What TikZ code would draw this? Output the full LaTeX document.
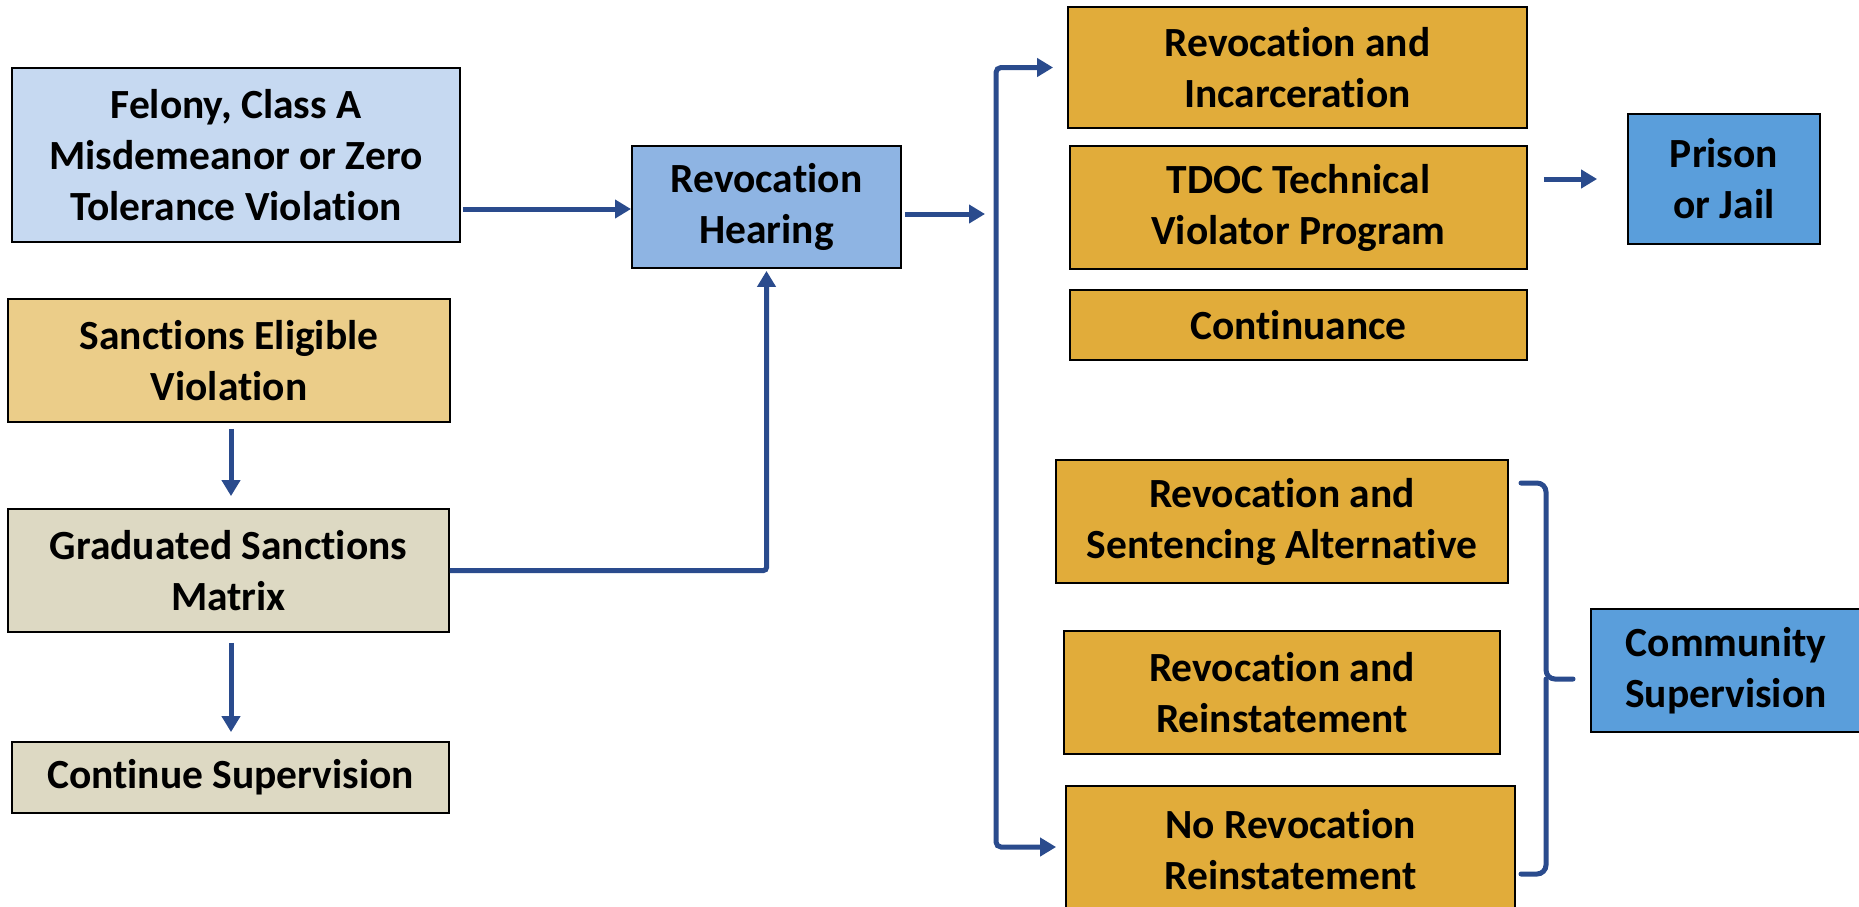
\documentclass[tikz,border=0pt]{standalone}
\usepackage{fontspec}
\setmainfont{Carlito}[Ligatures=NoCommon]
\usetikzlibrary{arrows.meta,calc}
\definecolor{felc}{HTML}{C6D9F1}
\definecolor{rhc}{HTML}{8EB4E3}
\definecolor{sec}{HTML}{EBCD89}
\definecolor{tanc}{HTML}{DDD9C3}
\definecolor{goldc}{HTML}{E1AC3A}
\definecolor{bluec}{HTML}{5A9EDB}
\definecolor{arrc}{HTML}{2A4B8D}
\tikzset{
  x=1pt, y=-1pt,
  box/.style={draw=black, line width=1.8pt, align=center, inner sep=0pt,
    font=\fontsize{41.5}{51}\selectfont\bfseries},
  arr/.style={draw=arrc, line width=5pt, -{Triangle[length=16pt,width=18pt]}},
  arr2/.style={draw=arrc, line width=5pt, {Triangle[length=16pt,width=18pt]}-{Triangle[length=16pt,width=18pt]}, rounded corners=5pt},
  brk/.style={draw=arrc, line width=5pt, rounded corners=9pt, line cap=round}
}
\begin{document}
\begin{tikzpicture}
\useasboundingbox (0,0) rectangle (1859,906);
\clip (0,0) rectangle (1859,906);
\fill[white] (0,0) rectangle (1859,906);
% left column
\node[box, fill=felc, minimum width=448, minimum height=174] (fel) at (236,155) {Felony, Class A\\Misdemeanor or Zero\\Tolerance Violation};
\node[box, fill=rhc, minimum width=269, minimum height=122] (rh) at (766.5,207) {Revocation\\Hearing};
\node[box, fill=sec, minimum width=442, minimum height=123] (se) at (229,360.5) {Sanctions Eligible\\Violation};
\node[box, fill=tanc, minimum width=441, minimum height=123] (gs) at (228.5,570.5) {Graduated Sanctions\\Matrix};
\node[box, fill=tanc, minimum width=437, minimum height=71] (cs) at (230.5,777.5) {Continue Supervision};
% right column
\node[box, fill=goldc, minimum width=459, minimum height=121] (ri) at (1297.5,67.5) {Revocation and\\Incarceration};
\node[box, fill=goldc, minimum width=457, minimum height=123] (tdoc) at (1298.5,207.5) {TDOC Technical\\Violator Program};
\node[box, fill=goldc, minimum width=457, minimum height=70] (cont) at (1298.5,325) {Continuance};
\node[box, fill=bluec, minimum width=192, minimum height=130] (pj) at (1724,179) {Prison\\or Jail};
\node[box, fill=goldc, minimum width=452, minimum height=123] (rsa) at (1282,521.5) {Revocation and\\Sentencing Alternative};
\node[box, fill=goldc, minimum width=436, minimum height=123] (rr) at (1282,692.5) {Revocation and\\Reinstatement};
\node[box, fill=goldc, minimum width=449, minimum height=128] (nrr) at (1290.5,850) {No Revocation\\Reinstatement};
\node[box, fill=bluec, minimum width=270, minimum height=123] (comm) at (1726,670.5) {Community\\Supervision};
% connectors
\coordinate (bx) at (996,450);
\coordinate (hin) at (985,214);
\coordinate (fin) at (631,209);
\coordinate (vx) at (231,0);
\draw[arr, shorten <=2pt] (fel.east |- fin) -- (fin);
\draw[arr, shorten <=3pt] (rh.east |- hin) -- (hin);
\draw[arr, rounded corners=3pt] (gs.east) -| ([yshift=-2pt]rh.south);
\draw[arr, shorten <=6pt, shorten >=12pt] (vx |- se.south) -- (vx |- gs.north);
\draw[arr, shorten <=10pt, shorten >=9pt] (vx |- gs.south) -- (vx |- cs.north);
\draw[arr2] ([xshift=-14pt]ri.west) -| (bx) |- ([shift={(-9,-3)}]nrr.west);
\draw[arr, shorten <=16pt, shorten >=30pt] (tdoc.east |- pj.west) -- (pj.west);
% bracket
\coordinate (bt) at (1521,483);
\coordinate (bm) at (1573,679);
\coordinate (bb) at (1521,874);
\coordinate (bv) at (1546,679);
\draw[brk] (bt) -| (bv) -- (bm);
\draw[brk] (bb) -| (bv);
\end{tikzpicture}
\end{document}
